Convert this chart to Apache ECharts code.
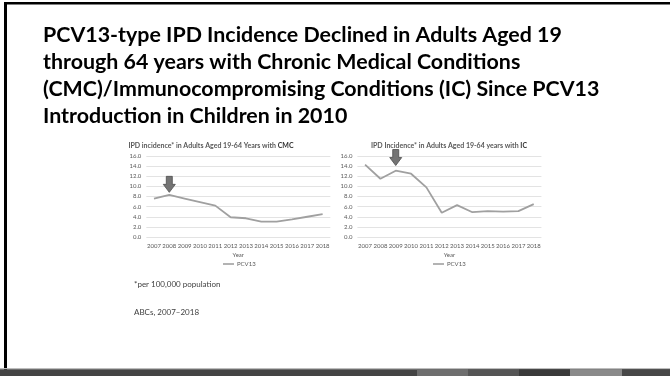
<!DOCTYPE html>
<html>
<head>
<meta charset="utf-8">
<script src="https://cdn.jsdelivr.net/npm/echarts@6/dist/echarts.min.js"></script>
<style>
  html, body { margin: 0; padding: 0; background: #fff; }
  #chart { width: 670px; height: 376px; }
</style>
</head>
<body>
<div id="chart"></div>
<script>
// Years on the horizontal axis (shared by both panels)
const years = ['2007','2008','2009','2010','2011','2012','2013','2014','2015','2016','2017','2018'];

// PCV13-type IPD incidence per 100,000, adults 19-64 with chronic medical conditions
const cmcValues = [7.6, 8.3, 7.6, 6.9, 6.2, 3.9, 3.7, 3.05, 3.05, 3.5, 4.0, 4.5];

// PCV13-type IPD incidence per 100,000, adults 19-64 with immunocompromising conditions
const icValues = [14.3, 11.5, 13.1, 12.5, 9.8, 4.8, 6.3, 4.9, 5.1, 5.0, 5.1, 6.5];

// Arrow markers: the year pointed at and the level where each arrow sits
const cmcArrow = ['2008', 10.4];
const icArrow = ['2009', 15.7];

const seriesName = 'PCV13';
const mainTitle = [
  'PCV13-type IPD Incidence Declined in Adults Aged 19',
  'through 64 years with Chronic Medical Conditions',
  '(CMC)/Immunocompromising Conditions (IC) Since PCV13',
  'Introduction in Children in 2010'
];
const footnotes = ['*per 100,000 population', 'ABCs, 2007\u20132018'];

const FONT = 'Lato, "Open Sans", sans-serif';
const GRAY_TEXT = '#595959';
const LINE_GRAY = '#a0a0a0';
const ARROW_PATH = 'path://M3,0 L9,0 L9,8 L12,8 L6,16 L0,8 L3,8 Z';
const HEAD_SIZE = 21.4;
const PANEL_TITLE_SIZE = 7;

const chart = echarts.init(document.getElementById('chart'), null, { renderer: 'canvas' });

function yAxisCfg(gridIndex) {
  return {
    type: 'value', gridIndex, min: 0, max: 16, interval: 2,
    axisLine: { show: false }, axisTick: { show: false },
    axisLabel: { fontFamily: FONT, fontSize: 6, color: GRAY_TEXT, margin: 5,
                 formatter: v => v.toFixed(1) },
    splitLine: { lineStyle: { color: '#dcdcdc', width: 0.8 } }
  };
}
function xAxisCfg(gridIndex) {
  return {
    type: 'category', gridIndex, data: years, boundaryGap: true,
    axisLine: { show: false }, axisTick: { show: false },
    axisLabel: { fontFamily: FONT, fontSize: 6, color: GRAY_TEXT, margin: 6, interval: 0 },
    name: 'Year', nameLocation: 'middle', nameGap: 15,
    nameTextStyle: { fontFamily: FONT, fontSize: 6, color: GRAY_TEXT }
  };
}
function lineSeries(idx, values, arrow) {
  return {
    name: seriesName, type: 'line', xAxisIndex: idx, yAxisIndex: idx,
    data: values, symbol: 'none', smooth: false,
    lineStyle: { color: LINE_GRAY, width: 1.8 },
    itemStyle: { color: LINE_GRAY },
    markPoint: {
      silent: true,
      symbol: ARROW_PATH, symbolSize: [12, 16],
      itemStyle: { color: '#747474', borderColor: '#4d4d4d', borderWidth: 0.8 },
      label: { show: false },
      data: [{ coord: arrow }]
    }
  };
}
function legendCfg(left) {
  return {
    data: [seriesName], left, top: 256,
    icon: 'rect', itemWidth: 11, itemHeight: 1.6, itemGap: 2,
    textStyle: { fontFamily: FONT, fontSize: 6, color: GRAY_TEXT, padding: [0, 0, 0, -2] },
    selectedMode: false
  };
}
function panelTitle(plain, bold, centerX) {
  return {
    text: '{a|' + plain + '}{b|' + bold + '}', left: centerX, top: 137, textAlign: 'center',
    textStyle: { rich: {
      a: { fontFamily: FONT, fontSize: PANEL_TITLE_SIZE, color: GRAY_TEXT },
      b: { fontFamily: FONT, fontSize: PANEL_TITLE_SIZE, color: '#333', fontWeight: 'bold' }
    } }
  };
}

const graphics = [];
// slide frame: top rule and left rule
graphics.push({ type: 'rect', shape: { x: 4, y: 2, width: 666, height: 2.5 }, style: { fill: '#000' } });
graphics.push({ type: 'rect', shape: { x: 4, y: 2, width: 3, height: 368 }, style: { fill: '#000' } });
// bottom band
graphics.push({ type: 'rect', shape: { x: 0, y: 368, width: 670, height: 1.2 }, style: { fill: '#bdbdbd' } });
graphics.push({ type: 'rect', shape: { x: 0, y: 369.2, width: 670, height: 7 }, style: { fill: '#444' } });
[[417, 51, '#6e6e6e'], [468, 51, '#555'], [519, 51, '#3a3a3a'], [570, 52, '#8a8a8a'], [622, 48, '#474747']]
  .forEach(([x, w, c]) => graphics.push({ type: 'rect', shape: { x, y: 369.2, width: w, height: 7 }, style: { fill: c } }));

// heading
const titleY = [35.4, 62.2, 89.4, 116.2];
mainTitle.forEach((t, i) => graphics.push({
  type: 'text', left: 43, top: titleY[i] - HEAD_SIZE / 2,
  style: { text: t, fontFamily: FONT, fontWeight: 'bold', fontSize: HEAD_SIZE, fill: '#000',
           verticalAlign: 'top' }
}));
// footnotes
graphics.push({ type: 'text', left: 134, top: 280,
  style: { text: footnotes[0], fontFamily: FONT, fontSize: 8, fill: '#404040' } });
graphics.push({ type: 'text', left: 134, top: 308,
  style: { text: footnotes[1], fontFamily: FONT, fontSize: 8, fill: '#404040' } });

const option = {
  backgroundColor: '#fff',
  animation: false,
  title: [
    panelTitle('IPD incidence* in Adults Aged 19-64 Years with ', 'CMC', 206),
    panelTitle('IPD Incidence* in Adults Aged 19-64 years with ', 'IC', 444)
  ],
  grid: [
    { left: 146.3, width: 184, top: 156, height: 81, containLabel: false },
    { left: 357.4, width: 184, top: 156, height: 81, containLabel: false }
  ],
  xAxis: [xAxisCfg(0), xAxisCfg(1)],
  yAxis: [yAxisCfg(0), yAxisCfg(1)],
  legend: [legendCfg(218), legendCfg(428)],
  series: [lineSeries(0, cmcValues, cmcArrow), lineSeries(1, icValues, icArrow)],
  graphic: graphics
};
chart.setOption(option);
</script>
</body>
</html>
